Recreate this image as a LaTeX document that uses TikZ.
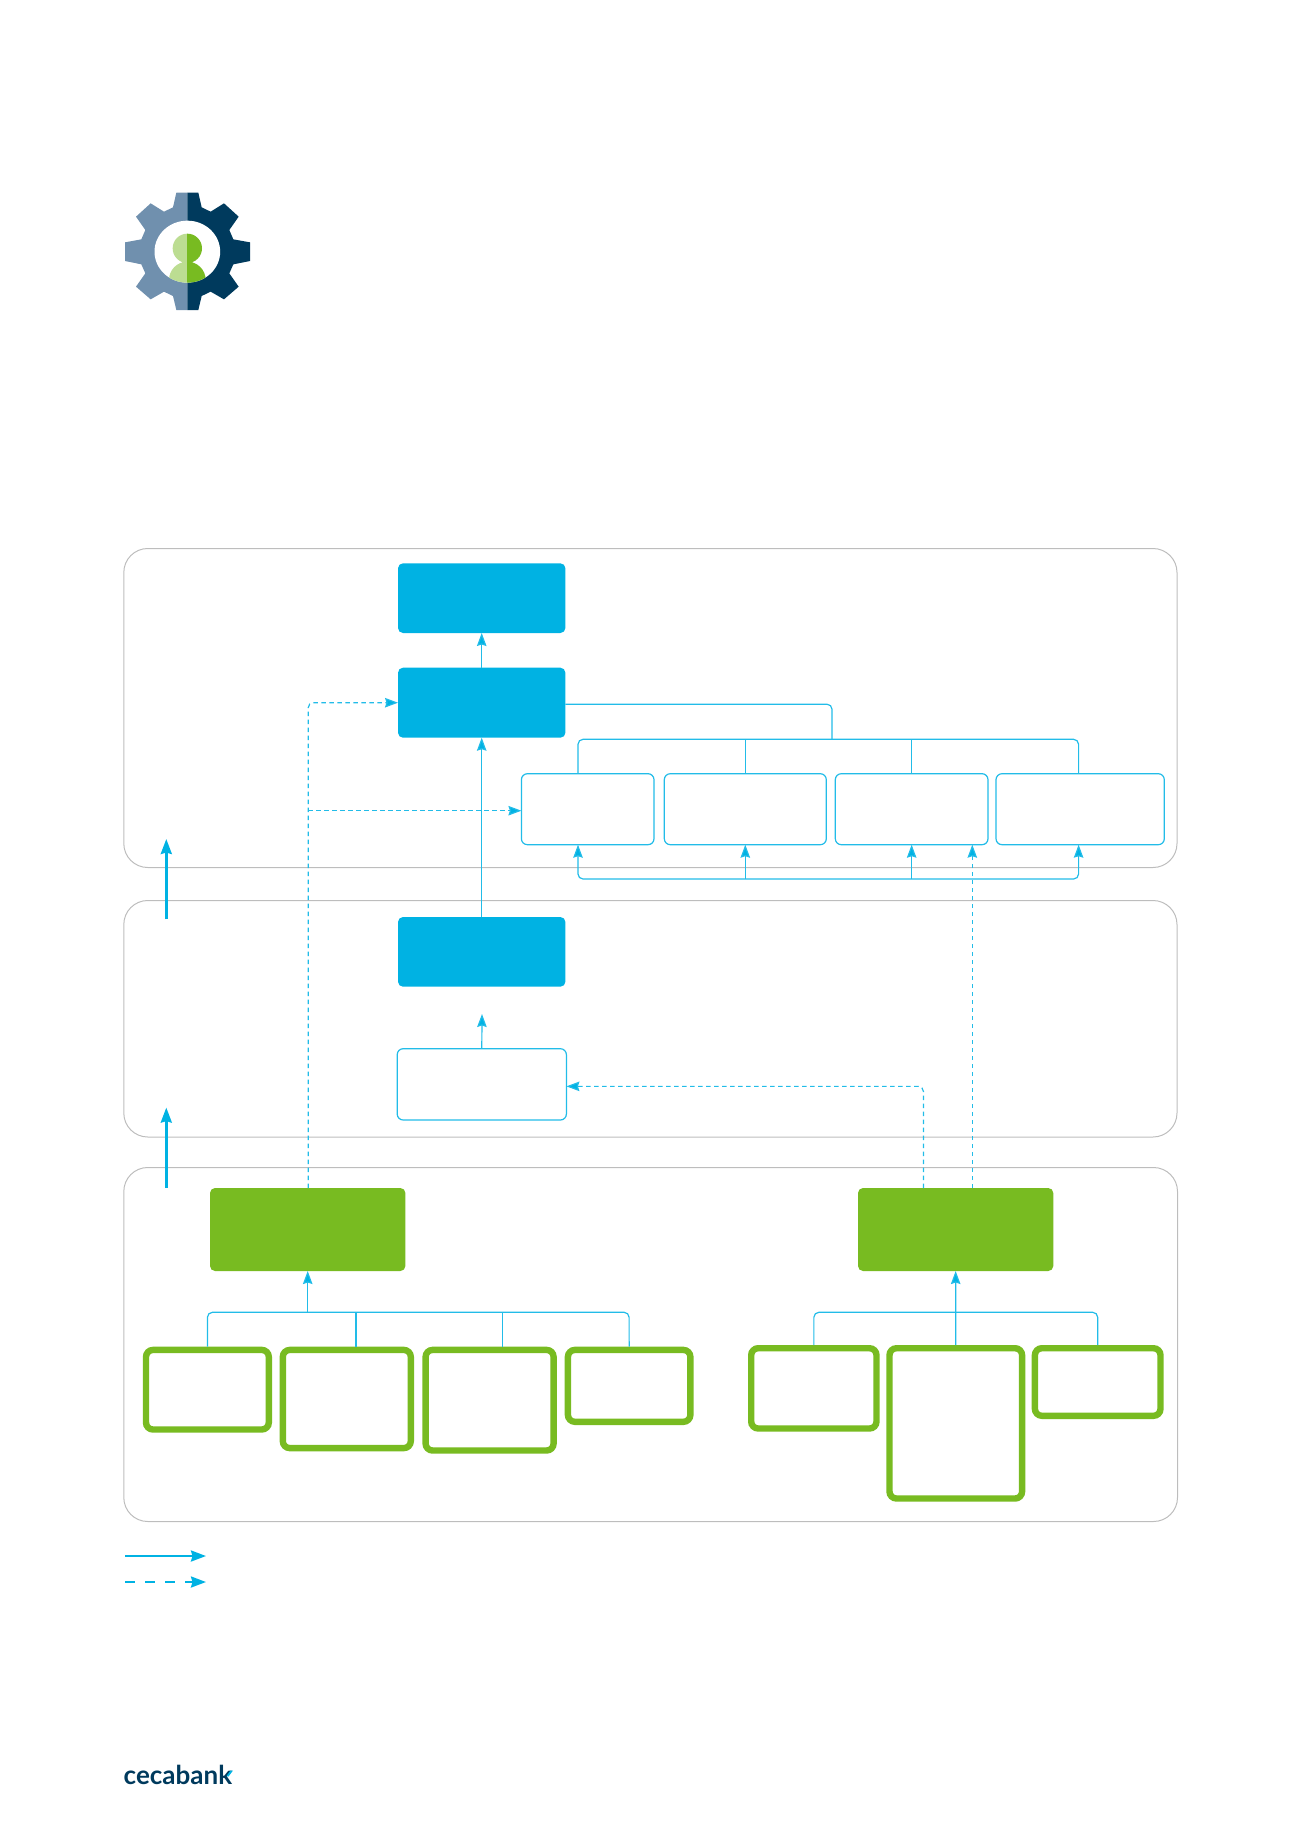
\documentclass[tikz,border=0pt]{standalone}
\usepackage{fontspec}
\usetikzlibrary{arrows.meta}
\newfontfamily\logofont{Lato}
\definecolor{cyanB}{HTML}{00B2E3}
\definecolor{lineB}{HTML}{22BCE8}
\definecolor{greenB}{HTML}{78BB21}
\definecolor{greyP}{HTML}{BDBDBD}
\definecolor{navy}{HTML}{003A5D}
\definecolor{navyL}{HTML}{7090AE}
\definecolor{greenL}{HTML}{BCDD92}
\tikzset{
  panel/.style={draw=greyP,line width=1pt,rounded corners=24pt},
  solidbox/.style={draw=none,rounded corners=5pt,inner sep=0pt,outer sep=0pt,anchor=north west},
  bluebox/.style={solidbox,fill=cyanB},
  greenbox/.style={solidbox,fill=greenB},
  whitebox/.style={draw=lineB,fill=white,line width=1.2pt,rounded corners=6pt,inner sep=0pt,outer sep=0pt,anchor=north west},
  outbox/.style={draw=greenB,fill=white,line width=6.4pt,rounded corners=7pt,inner sep=0pt,outer sep=3.2pt,anchor=north west},
  link/.style={draw=lineB,line width=1.2pt,rounded corners=5pt},
  conn/.style={link,-{Stealth[length=13pt,width=9.5pt,inset=1.5pt,fill=cyanB]}},
  connboth/.style={link,{Stealth[length=13pt,width=9.5pt,inset=1.5pt,fill=cyanB]}-{Stealth[length=13pt,width=9.5pt,inset=1.5pt,fill=cyanB]}},
  dashconn/.style={conn,dash pattern=on 4.5pt off 3.5pt},
  bigarrow/.style={draw=cyanB,line width=2.5pt,-{Stealth[length=15pt,width=11pt,inset=1.5pt]}},
}
\begin{document}
\begin{tikzpicture}[x=1pt,y=-1pt]
\useasboundingbox (0,0) rectangle (1300,1839);
% gear icon
\begin{scope}[shift={(100,170)},x=0.33333pt,y=-0.33333pt]
\fill[navyL] (262,68) -- (229,68) -- (219,112) -- (192,125) -- (152,100) -- (108,140) -- (136,180) -- (124,208) -- (75,217) -- (75,273) -- (124,283) -- (136,310) -- (108,350) -- (152,388) -- (192,365) -- (219,378) -- (229,420) -- (262,420) -- cycle;
\fill[navy] (262,68) -- (295,68) -- (305,112) -- (332,125) -- (372,100) -- (416,140) -- (388,180) -- (400,208) -- (450,217) -- (450,273) -- (400,283) -- (388,310) -- (416,350) -- (372,388) -- (332,365) -- (305,378) -- (295,420) -- (262,420) -- cycle;
\fill[white] (262,245) ellipse[x radius=98.5,y radius=93];
\begin{scope}
\clip (262,235) circle[radius=44] (262,330) circle[radius=55];
\clip (262,245) ellipse[x radius=98.5,y radius=93];
\fill[greenL] (164,150) rectangle (262,345);
\fill[greenB] (262,150) rectangle (360,345);
\end{scope}
\end{scope}
% panels
\draw[panel] (123.8,548.5) rectangle (1177,867.5);
\draw[panel] (123.8,900.5) rectangle (1177,1137);
\draw[panel] (123.8,1167.5) rectangle (1177.5,1521.5);
% named helper coordinates
\coordinate (busTL) at (578,739.3);
\coordinate (busTR) at (1078.6,739.3);
\coordinate (busTM) at (832,739.3);
\coordinate (busBL) at (578,879);
\coordinate (busBR) at (1078.6,879);
\coordinate (dashB) at (308.2,810.7);
\coordinate (dashRa) at (923.4,1086.3);
\coordinate (dashRb) at (972.3,879);
\coordinate (free) at (482,1014);
\coordinate (busAL) at (207.4,1312.3);
\coordinate (busAR) at (629.1,1312.3);
\coordinate (xb) at (356,1312.3);
\coordinate (xc) at (502.2,1312.3);
\coordinate (busEL) at (813.85,1312.3);
\coordinate (busER) at (1097.7,1312.3);
\coordinate (upAa) at (166.3,919.3);
\coordinate (upAb) at (166.3,839);
\coordinate (upBa) at (166.3,1188);
\coordinate (upBb) at (166.3,1107.6);
\coordinate (legAa) at (125.3,1556);
\coordinate (legAb) at (206,1556);
\coordinate (legBa) at (125.3,1582);
\coordinate (legBb) at (206,1582);
% nodes
\node[bluebox,minimum width=167.4pt,minimum height=69.7pt] (blue1) at (398,563.3) {};
\node[bluebox,minimum width=167.4pt,minimum height=70pt] (blue2) at (398,667.7) {};
\node[bluebox,minimum width=167.4pt,minimum height=69.7pt] (blue3) at (398,917) {};
\node[whitebox,minimum width=169.2pt,minimum height=71.3pt] (wbox) at (397.2,1048.7) {};
\node[whitebox,minimum width=132.6pt,minimum height=71pt] (row1) at (521.4,773.7) {};
\node[whitebox,minimum width=162pt,minimum height=71pt] (row2) at (664.3,773.7) {};
\node[whitebox,minimum width=152.7pt,minimum height=71pt] (row3) at (835.3,773.7) {};
\node[whitebox,minimum width=168.3pt,minimum height=71pt] (row4) at (996,773.7) {};
\node[greenbox,minimum width=195.4pt,minimum height=83pt] (green1) at (210,1188) {};
\node[greenbox,minimum width=195.3pt,minimum height=83pt] (green2) at (858,1188) {};
\node[outbox,minimum width=122.8pt,minimum height=79.6pt] (a) at (142.8,1346.7) {};
\node[outbox,minimum width=128pt,minimum height=98.2pt] (b) at (279.6,1346.7) {};
\node[outbox,minimum width=128pt,minimum height=100.6pt] (c) at (422.4,1346.7) {};
\node[outbox,minimum width=122.5pt,minimum height=71.9pt] (d) at (564.7,1346.7) {};
\node[outbox,minimum width=125.3pt,minimum height=80.3pt] (e) at (748,1345) {};
\node[outbox,minimum width=132.6pt,minimum height=150.3pt] (f) at (886.3,1345) {};
\node[outbox,minimum width=125.6pt,minimum height=67.6pt] (g) at (1031.7,1345) {};
% upper connectors
\draw[conn] (blue2.north) -- (blue1.south);
\draw[conn] (blue3.north) -- (blue2.south);
\draw[conn] (wbox.north) -- (free);
\draw[link] ([yshift=-1.5pt]blue2.east) -| (busTM);
\draw[link] (busTL |- row1.north) -- (busTL) -- (busTR) -- (busTR |- row4.north);
\draw[link] (row2.north) -- (row2.north |- busTL);
\draw[link] (row3.north) -- (row3.north |- busTL);
\draw[connboth] (busBL |- row1.south) -- (busBL) -- (busBR) -- (busBR |- row4.south);
\draw[conn] (row2.south |- busBL) -- (row2.south);
\draw[conn] (row3.south |- busBL) -- (row3.south);
% dashed connectors
\draw[dashconn] (dashB |- green1.north) |- (blue2.west);
\draw[dashconn] (dashB) -- ([yshift=-1.5pt]row1.west);
\draw[dashconn] (dashRa |- green2.north) |- ([yshift=-2pt]wbox.east);
\draw[dashconn] (dashRb |- green2.north) -- (dashRb |- row3.south);
% lower connectors
\draw[conn] (green1.south |- busAL) -- (green1.south);
\draw[link] (a.north) -- (busAL) -- (busAR) -- (d.north);
\draw[link] (xb |- b.north) -- (xb);
\draw[link] (xc |- c.north) -- (xc);
\draw[conn] (f.north) -- (green2.south);
\draw[link] (e.north) -- (busEL) -- (busER) -- (g.north);
% big arrows and legend
\draw[bigarrow] (upAa) -- (upAb);
\draw[bigarrow] (upBa) -- (upBb);
\draw[bigarrow,line width=2.3pt] (legAa) -- (legAb);
\draw[bigarrow,line width=2.3pt,dash pattern=on 10pt off 10pt] (legBa) -- (legBb);
% logo
\node[anchor=base west,inner sep=0pt,text=navy,font=\logofont\bfseries\fontsize{26}{26}\selectfont] (logo) at (123.5,1784) {cecabank};
\fill[cyanB] (226.5,1776) -- (230.5,1770.5) -- (233,1770.5) -- (228.5,1776.5) -- cycle;
\end{tikzpicture}
\end{document}
